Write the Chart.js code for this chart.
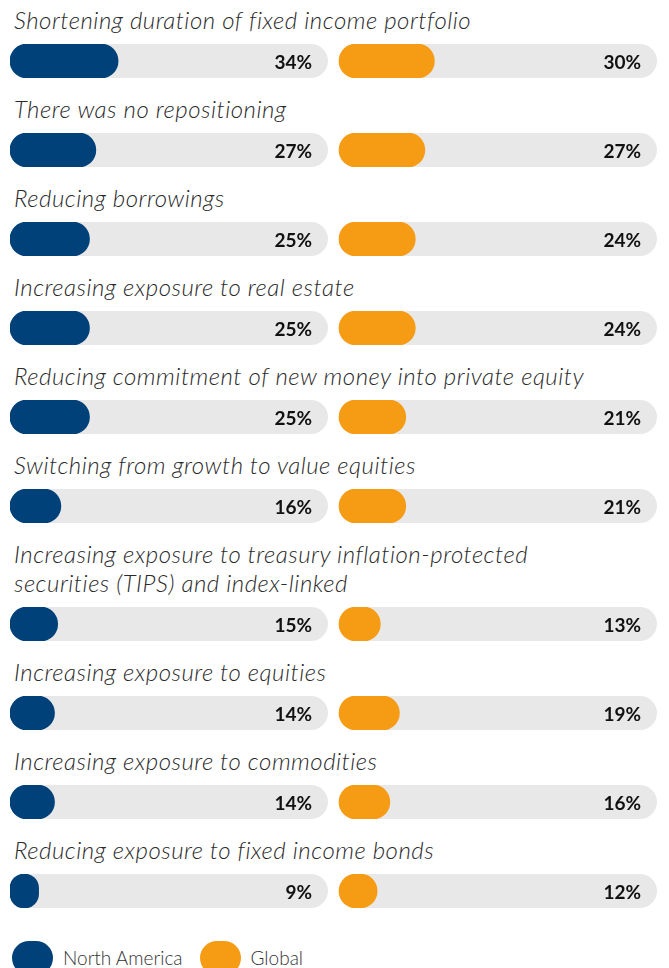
<!DOCTYPE html>
<html>
<head>
<meta charset="utf-8">
<script src="https://cdn.jsdelivr.net/npm/chart.js@4/dist/chart.umd.min.js"></script>
<style>
  html, body { margin: 0; padding: 0; background: #ffffff; }
  body { width: 669px; height: 968px; overflow: hidden; font-family: "Lato", "Noto Sans", sans-serif; }
  #wrap { padding-top: 5px; }
  .label { padding-left: 14px; font-style: italic; font-weight: 300; font-size: 24px; letter-spacing: 0.5px; line-height: 29px; color: #2a2a2a; white-space: nowrap; }
  .bar { margin-top: 10px; margin-bottom: 16px; height: 34px; }
  .bar canvas { display: block; }
  #legend { padding-top: 17px; padding-left: 12px; display: flex; align-items: center; height: 34px; }
  .sw { width: 41px; height: 34px; border-radius: 17px; display: inline-block; flex: none; }
  .lt { font-weight: 300; font-size: 19px; color: #333; margin-left: 10px; margin-right: 17px; line-height: 34px; }
</style>
</head>
<body>
<div id="wrap"></div>
<script>
// ---- Data ----
const categories = [
  ["Shortening duration of fixed income portfolio"],
  ["There was no repositioning"],
  ["Reducing borrowings"],
  ["Increasing exposure to real estate"],
  ["Reducing commitment of new money into private equity"],
  ["Switching from growth to value equities"],
  ["Increasing exposure to treasury inflation-protected", "securities (TIPS) and index-linked"],
  ["Increasing exposure to equities"],
  ["Increasing exposure to commodities"],
  ["Reducing exposure to fixed income bonds"]
];
const northAmerica = [34, 27, 25, 25, 25, 16, 15, 14, 14, 9];
const globalVals   = [30, 27, 24, 24, 21, 21, 13, 19, 16, 12];
const seriesNames  = ["North America", "Global"];

// ---- Style ----
const NAVY = "#004179";
const ORANGE = "#F59C14";
const TRACK = "#E8E8E8";
const W = 669, H = 34;
const PAD_L = 10, PAD_R = 12;
const L_END = 328, R_START = 339;

const areaW = W - PAD_L - PAD_R;
const unitL = (L_END - PAD_L) / 100;
const unitR = (W - PAD_R - R_START) / 100;

const trackPlugin = {
  id: 'tracks',
  beforeDatasetsDraw(chart) {
    const ctx = chart.ctx, a = chart.chartArea;
    ctx.save();
    ctx.fillStyle = TRACK;
    ['xL', 'xR'].forEach(id => {
      const s = chart.scales[id];
      const x0 = s.getPixelForValue(0), x1 = s.getPixelForValue(100);
      ctx.beginPath();
      ctx.roundRect(x0, a.top, x1 - x0, a.bottom - a.top, (a.bottom - a.top) / 2);
      ctx.fill();
    });
    ctx.restore();
  },
  afterDatasetsDraw(chart) {
    const ctx = chart.ctx, a = chart.chartArea;
    ctx.save();
    ctx.fillStyle = "#111";
    ctx.font = "bold 19px Lato, 'Noto Sans', sans-serif";
    ctx.textAlign = "right";
    ctx.textBaseline = "middle";
    chart.data.datasets.forEach(ds => {
      const s = chart.scales[ds.xAxisID];
      const x = s.getPixelForValue(100) - 16;
      ctx.fillText(ds.data[0] + "%", x, (a.top + a.bottom) / 2 + 2);
    });
    ctx.restore();
  }
};

const wrap = document.getElementById('wrap');
categories.forEach((cat, i) => {
  const lab = document.createElement('div');
  lab.className = 'label';
  lab.innerHTML = cat.join('<br>');
  wrap.appendChild(lab);
  const bd = document.createElement('div');
  bd.className = 'bar';
  const cv = document.createElement('canvas');
  cv.width = W; cv.height = H;
  cv.style.width = W + 'px'; cv.style.height = H + 'px';
  bd.appendChild(cv);
  wrap.appendChild(bd);

  new Chart(cv, {
    type: 'bar',
    data: {
      labels: [cat.join(' ')],
      datasets: [
        { label: seriesNames[0], data: [northAmerica[i]], xAxisID: 'xL', backgroundColor: NAVY },
        { label: seriesNames[1], data: [globalVals[i]], xAxisID: 'xR', backgroundColor: ORANGE }
      ]
    },
    options: {
      indexAxis: 'y',
      responsive: false,
      animation: false,
      devicePixelRatio: 1,
      layout: { padding: { left: PAD_L, right: PAD_R, top: 0, bottom: 0 } },
      datasets: { bar: { barPercentage: 1, categoryPercentage: 1, grouped: false, borderRadius: 17, borderSkipped: false } },
      scales: {
        y: { display: false },
        xL: { type: 'linear', axis: 'x', display: false, min: 0, max: areaW / unitL },
        xR: { type: 'linear', axis: 'x', display: false, min: -(R_START - PAD_L) / unitR, max: 100 }
      },
      plugins: { legend: { display: false }, tooltip: { enabled: false } }
    },
    plugins: [trackPlugin]
  });
});

const leg = document.createElement('div');
leg.id = 'legend';
[NAVY, ORANGE].forEach((c, k) => {
  const sw = document.createElement('span');
  sw.className = 'sw'; sw.style.background = c;
  const t = document.createElement('span');
  t.className = 'lt'; t.textContent = seriesNames[k];
  leg.appendChild(sw); leg.appendChild(t);
});
wrap.appendChild(leg);
</script>
</body>
</html>
